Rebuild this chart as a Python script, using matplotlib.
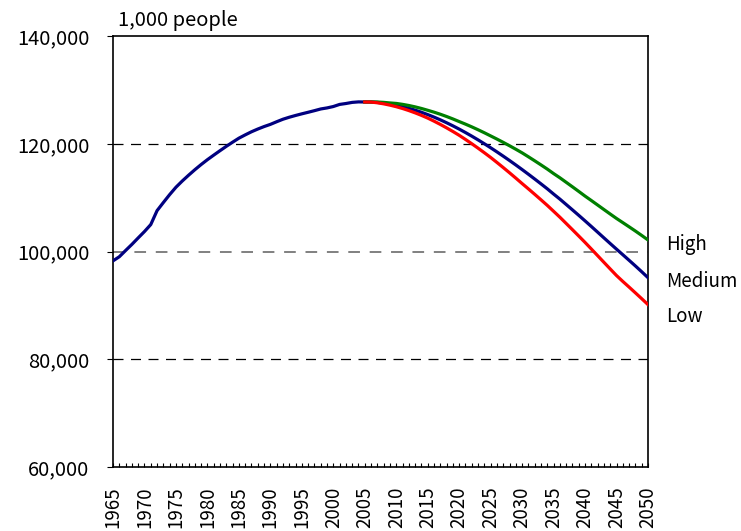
import matplotlib
matplotlib.use("Agg")
import matplotlib.pyplot as plt
from matplotlib.ticker import MultipleLocator, FuncFormatter

plt.rcParams['font.family'] = ['Noto Sans CJK JP', 'DejaVu Sans']

# population, 1,000 people (actual to 2005, medium projection after)
years = list(range(1965, 2051))
medium = [
    98275, 99036, 100196, 101331, 102536, 103720, 105014, 107595, 109104, 110573,
    111940, 113094, 114165, 115190, 116155, 117060, 117902, 118728, 119536, 120305,
    121049, 121660, 122239, 122745, 123205, 123611, 124101, 124567, 124938, 125265,
    125570, 125859, 126157, 126472, 126667, 126926, 127316, 127486, 127694, 127787,
    127768, 127762, 127694, 127568, 127395, 127176, 126913, 126605, 126254, 125862,
    125430, 124961, 124456, 123915, 123341, 122735, 122097, 121430, 120735, 120015,
    119270, 118502, 117713, 116904, 116074, 115224, 114355, 113469, 112567, 111650,
    110679, 109737, 108738, 107735, 106723, 105695, 104652, 103597, 102538, 101485,
    100443, 99411, 98374, 97327, 96252, 95152,
]

proj_years = list(range(2005, 2051))
high = [
    127768, 127770, 127760, 127700, 127590, 127500, 127330, 127117, 126862, 126566,
    126230, 125881, 125496, 125075, 124621, 124135, 123657, 123150, 122615, 122055,
    121470, 120882, 120273, 119644, 118994, 118324, 117595, 116849, 116087, 115310,
    114479, 113697, 112858, 112015, 111163, 110295, 109472, 108637, 107798, 106965,
    106143, 105371, 104594, 103807, 102992, 102152,
]
low = [
    127768, 127755, 127620, 127425, 127183, 126896, 126559, 126177, 125752, 125286,
    124780, 124211, 123606, 122965, 122291, 121585, 120817, 120020, 119195, 118345,
    117470, 116542, 115593, 114624, 113634, 112624, 111635, 110629, 109607, 108570,
    107479, 106377, 105218, 104055, 102883, 101695, 100472, 99237, 97998, 96765,
    95543, 94451, 93400, 92330, 91250, 90150,
]

fig = plt.figure(figsize=(7.41, 5.31), dpi=100)
ax = fig.add_axes([0.1525, 0.1205, 0.722, 0.8115])

# reference lines
ax.axhline(120000, color='black', lw=0.9, ls=(0, (8, 6)), zorder=1)
ax.axhline(80000, color='black', lw=0.9, ls=(0, (8, 6)), zorder=1)
ax.axhline(100000, color='#808080', lw=1.4, ls=(0, (6, 5)), zorder=1)

ax.plot(years, medium, color='#000080', lw=2.3, zorder=3)
ax.plot(proj_years, high, color='#008000', lw=2.3, zorder=3)
ax.plot(proj_years, low, color='#ff0000', lw=2.3, zorder=4)

ax.set_xlim(1965, 2050)
ax.set_ylim(60000, 140000)

ax.xaxis.set_major_locator(MultipleLocator(5))
ax.xaxis.set_minor_locator(MultipleLocator(1))
ax.tick_params(axis='x', which='both', direction='in', length=3, width=0.8,
               pad=14, labelsize=13.5, labelrotation=90)
ax.yaxis.set_major_locator(MultipleLocator(20000))
ax.yaxis.set_major_formatter(FuncFormatter(lambda v, p: f'{int(v):,}'))
ax.tick_params(axis='y', direction='out', length=4, width=0.8, pad=13, labelsize=14.5)

for s in ax.spines.values():
    s.set_linewidth(1.2)

ax.annotate('1,000 people', xy=(0, 1), xycoords='axes fraction',
            xytext=(5, 5), textcoords='offset pixels', fontsize=14.5,
            ha='left', va='bottom')

tr = ax.get_yaxis_transform()
ax.text(1.033, 101400, 'High', transform=tr, fontsize=13.5, va='center', ha='left')
ax.text(1.033, 94500, 'Medium', transform=tr, fontsize=13.5, va='center', ha='left')
ax.text(1.033, 88000, 'Low', transform=tr, fontsize=13.5, va='center', ha='left')

fig.savefig('out.png', dpi=100)
